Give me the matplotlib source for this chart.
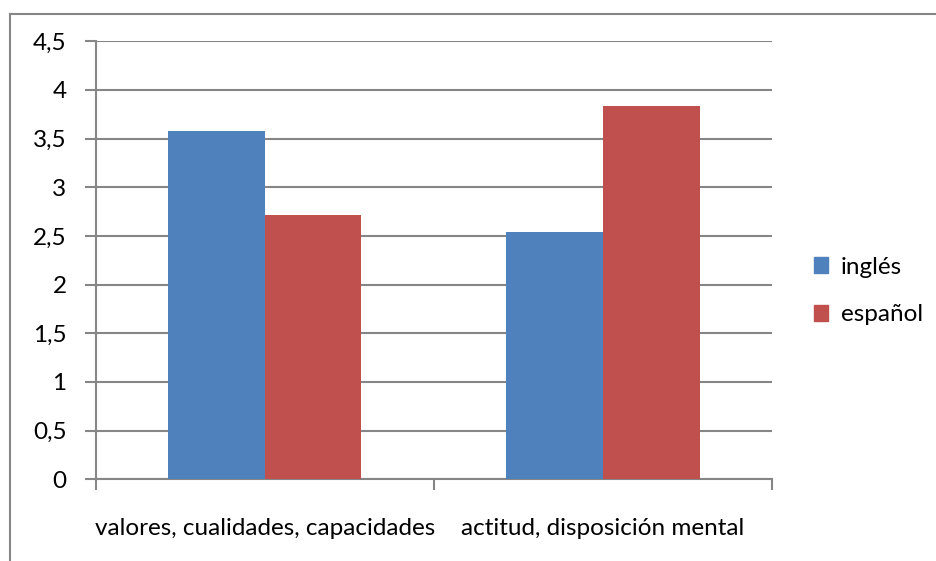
import matplotlib
matplotlib.use("Agg")
import matplotlib.pyplot as plt
from matplotlib.patches import Patch
from matplotlib.lines import Line2D
import numpy as np

plt.rcParams['font.family'] = ['Lato', 'DejaVu Sans']

categories = ["valores, cualidades, capacidades", "actitud, disposición mental"]
ingles = [3.58, 2.54]
espanol = [2.72, 3.84]
series_names = ["inglés", "español"]
yticks = [0, 0.5, 1, 1.5, 2, 2.5, 3, 3.5, 4, 4.5]
ytick_labels = ["0", "0,5", "1", "1,5", "2", "2,5", "3", "3,5", "4", "4,5"]

blue = "#4F81BD"
red = "#C0504D"
grey = "#868686"
fs = 17.5

W, H = 936, 561
fig = plt.figure(figsize=(W / 100, H / 100), dpi=100)

# plot area in pixel coordinates
left, right, top, bottom = 95.7, 772.0, 41.3, 479.3
ax = fig.add_axes([left / W, 1 - bottom / H, (right - left) / W, (bottom - top) / H])

x = np.arange(len(categories))
w = 1 / 3.5  # Excel gap width 150%
ax.bar(x - w / 2, ingles, width=w, color=blue, zorder=3, label=series_names[0])
ax.bar(x + w / 2, espanol, width=w, color=red, zorder=3, label=series_names[1])

ax.set_xlim(-0.5, len(categories) - 0.5)
ax.set_ylim(0, 4.5)

ax.set_yticks(yticks)
ax.set_yticklabels(ytick_labels, fontsize=fs)
ax.tick_params(axis='y', length=8, width=1.5, color=grey, pad=13)
ax.grid(axis='y', color=grey, linewidth=1.5, zorder=0)

# category separators as ticks, labels on minor ticks
ax.set_xticks([-0.5, 0.5, 1.5])
ax.set_xticklabels([])
ax.tick_params(axis='x', which='major', length=8, width=1.5, color=grey)
ax.set_xticks(x, minor=True)
ax.set_xticklabels(categories, minor=True, fontsize=fs)
ax.tick_params(axis='x', which='minor', length=0, pad=28)

for s in ['top', 'right']:
    ax.spines[s].set_visible(False)
for s in ['left', 'bottom']:
    ax.spines[s].set_color(grey)
    ax.spines[s].set_linewidth(1.5)

handles = [Patch(color=blue), Patch(color=red)]
fig.legend(handles, series_names, loc='center left',
           bbox_to_anchor=(792 / W, 1 - 291 / H), frameon=False,
           fontsize=fs, handlelength=0.6, handleheight=0.6,
           handletextpad=0.5, labelspacing=1.1)

# chart area border
fig.add_artist(Line2D([9.5 / W, 9.5 / W], [0, 1 - 13.5 / H], color=grey, lw=1.5))
fig.add_artist(Line2D([9.5 / W, 1], [1 - 13.5 / H, 1 - 13.5 / H], color=grey, lw=1.5))

fig.savefig("out.png", dpi=100)
